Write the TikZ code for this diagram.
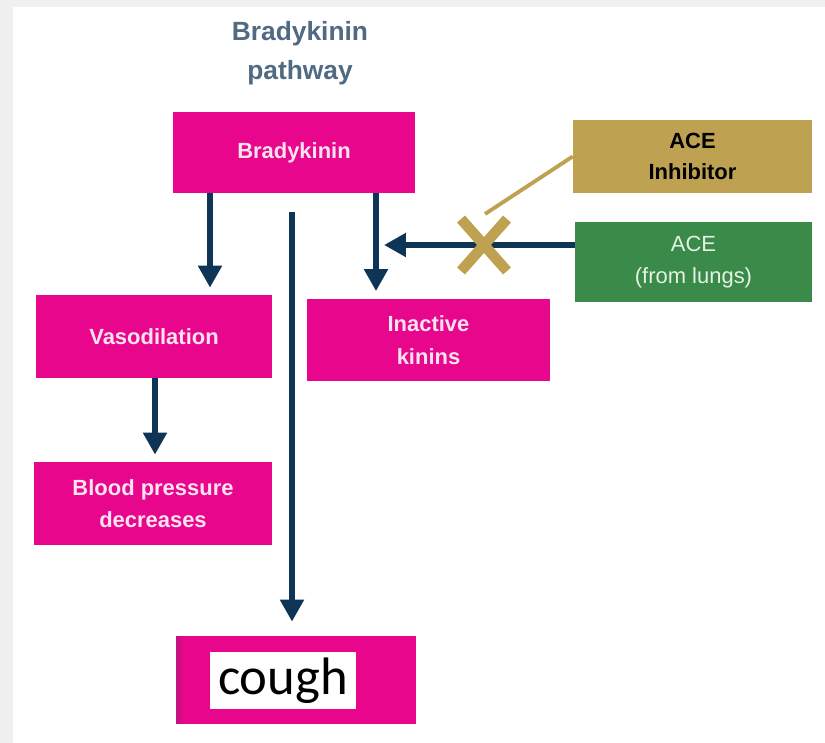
\documentclass[tikz,border=0pt]{standalone}
\usepackage{fontspec}
\setmainfont{Liberation Sans}
\newfontfamily\coughfont{Carlito}
\usetikzlibrary{arrows.meta}

\definecolor{magbox}{HTML}{E8068C}
\definecolor{magdark}{HTML}{C8107E}
\definecolor{tanbox}{HTML}{BFA251}
\definecolor{greenbox}{HTML}{3A8A4A}
\definecolor{navy}{HTML}{0F3556}
\definecolor{titleblue}{HTML}{4F6A82}
\definecolor{pinktext}{HTML}{FBE3F0}
\definecolor{greentext}{HTML}{E6F2E4}

\tikzset{
  magnode/.style={fill=magbox, text=pinktext, font=\bfseries\fontsize{12.5}{18.5}\selectfont, align=center, inner sep=0pt},
  flow/.style={->, draw=navy, line width=3.4pt},
  tanline/.style={draw=tanbox, line width=2.2pt}
}

\begin{document}
\begin{tikzpicture}[x=0.02cm, y=-0.02cm, >={Triangle[length=12.5pt,width=13pt]}]
\useasboundingbox (0,0) rectangle (825,743);
\fill[black!6] (0,0) rectangle (825,743);
\fill[white] (13,7) rectangle (825,743);

\node[text=titleblue, font=\bfseries\fontsize{15}{22}\selectfont, align=center] (title) at (300,53) {Bradykinin\\pathway};

\node[magnode, minimum width=4.84cm, minimum height=1.62cm] (brady) at (294,152.5) {Bradykinin};
\node[magnode, minimum width=4.72cm, minimum height=1.66cm] (vaso) at (154,336.5) {Vasodilation};
\node[magnode, minimum width=4.76cm, minimum height=1.66cm] (bp) at (153,503.5) {Blood pressure\\decreases};
\node[magnode, minimum width=4.86cm, minimum height=1.66cm] (inact) at (428.5,340) {Inactive\\kinins};
\node[fill=magbox, minimum width=4.8cm, minimum height=1.76cm, inner sep=0pt] (cough) at (296,680) {};
\fill[magdark] (cough.north west) rectangle ([xshift=0.1cm]cough.south west);
\node[fill=white, minimum width=2.92cm, minimum height=1.14cm, inner sep=0pt, font=\coughfont\fontsize{30}{30}\selectfont] (coughtxt) at (283,680.5) {cough};

\node[fill=tanbox, minimum width=4.78cm, minimum height=1.46cm, inner sep=0pt, align=center, font=\bfseries\fontsize{12.5}{18}\selectfont] (inhib) at (692.5,156.5) {ACE\\Inhibitor};
\node[fill=greenbox, text=greentext, minimum width=4.74cm, minimum height=1.6cm, inner sep=0pt, align=center, font=\fontsize{12.5}{18}\selectfont] (ace) at (693.5,262) {ACE\\(from lungs)};

\coordinate (xv) at (210,0);
\coordinate (xk) at (376,0);
\coordinate (xb) at (155,0);
\coordinate (cstart) at (292,212);
\coordinate (hk) at (384,245);
\coordinate (xmid) at (484,245);
\coordinate (xtop) at (485,214);

% arrows
\draw[flow, shorten >=4pt] (brady.south -| xv) -- (vaso.north -| xv);
\draw[flow, shorten >=4pt] (brady.south -| xk) -- (inact.north -| xk);
\draw[flow, shorten >=8pt] (cstart) -- (cough.north -| cstart);
\draw[flow, shorten >=4pt] (vaso.south -| xb) -- (bp.north -| xb);
\draw[flow] (ace.west |- hk) -- (hk);

% inhibitor blocks ACE
\draw[tanline] (inhib.west) -- (xtop);
\draw[draw=tanbox, line width=6pt] ([shift={(-23,-26)}]xmid) -- ([shift={(23,26)}]xmid)
  ([shift={(-23,26)}]xmid) -- ([shift={(23,-26)}]xmid);
\end{tikzpicture}
\end{document}
